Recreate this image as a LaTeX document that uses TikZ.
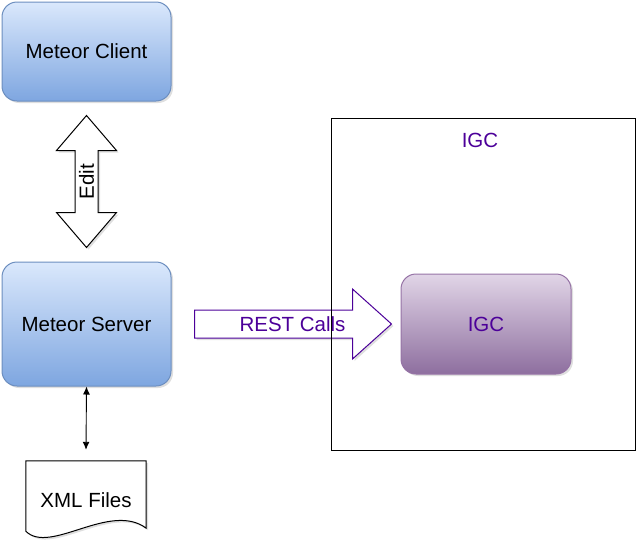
\documentclass[tikz,border=0pt]{standalone}
\usepackage{fontspec}
\setmainfont{Liberation Sans}
\usetikzlibrary{calc,arrows.meta,shadows}

\definecolor{meteorline}{HTML}{6C8EBF}
\definecolor{meteortop}{HTML}{DAE8FC}
\definecolor{meteorbot}{HTML}{7EA6E0}
\definecolor{igcline}{HTML}{9673A6}
\definecolor{igctop}{HTML}{E1D5E7}
\definecolor{igcbot}{HTML}{8E6F9F}
\definecolor{igctext}{HTML}{4C0099}

\begin{document}
\begin{tikzpicture}[x=1pt,y=-1pt,>={Latex[length=8pt,width=7pt]},
    font=\fontsize{20.5}{24}\selectfont,
    soft/.style={drop shadow={shadow xshift=2pt,shadow yshift=-2pt,opacity=.25}},
    meteor/.style={draw=meteorline,line width=1pt,rounded corners=15pt,
      top color=meteortop,bottom color=meteorbot,soft},
    igcbox/.style={draw=igcline,line width=1pt,rounded corners=15pt,
      top color=igctop,bottom color=igcbot,soft,text=igctext},
    fatarrow/.style={draw,fill=white,line width=1pt,soft}]

  \useasboundingbox (0,0) rectangle (639,549);

  \begin{scope}[every node/.style={inner sep=0pt}]
    \node[meteor,minimum width=169pt,minimum height=99pt]  (client) at (86.5,51.5) {Meteor Client};
    \node[meteor,minimum width=169pt,minimum height=124pt] (server) at (86.5,324)  {Meteor Server};
    \node[igcbox,minimum width=170pt,minimum height=100pt] (igc)    at (486,324)   {IGC};
    \node[minimum width=120pt,minimum height=70pt]         (xml)    at (86,496)    {};
  \end{scope}

  % Edit
  \coordinate (edit top) at ($(client.south)+(0,14)$);
  \draw[fatarrow] (edit top) -- ++(30,35) -- ++(-18.5,0) -- ++(0,62) -- ++(18.5,0)
    -- ++(-30,35) -- ++(-30,-35) -- ++(18.5,0) -- ++(0,-62) -- ++(-18.5,0) -- cycle;
  \node[rotate=90] (edit) at ($(edit top)+(0,66)$) {Edit};

  % REST Calls
  \coordinate (rest tail) at ($(server.east)+(23,0)$);
  \draw[fatarrow,draw=igctext] (rest tail) ++(0,-14) -- ++(158,0) -- ++(0,-21)
    -- ++(39,35) -- ++(-39,35) -- ++(0,-21) -- ++(-158,0) -- cycle;
  \node[text=igctext] (rest) at ($(rest tail)+(98,0)$) {REST Calls};

  % IGC frame
  \node[draw,line width=.8pt,minimum width=304pt,minimum height=332pt,inner sep=0pt]
    (igc frame) at (483,284) {};
  \node[text=igctext] (igc label) at ($(igc frame.north)+(-3,23)$) {IGC};

  % XML Files
  \draw[fill=white,line width=1pt,soft] (xml.south west) -- (xml.north west) -- (xml.north east)
    -- ([yshift=3pt]xml.south east)
    .. controls ($(xml.south)+(24,-30)$) and ($(xml.south)+(-36,24)$) .. (xml.south west) -- cycle;
  \node (xml text) at ($(xml)+(0,4)$) {XML Files};
  \draw[<->,line width=.9pt] (server.south) -- ([yshift=11pt]xml.north);

\end{tikzpicture}
\end{document}
